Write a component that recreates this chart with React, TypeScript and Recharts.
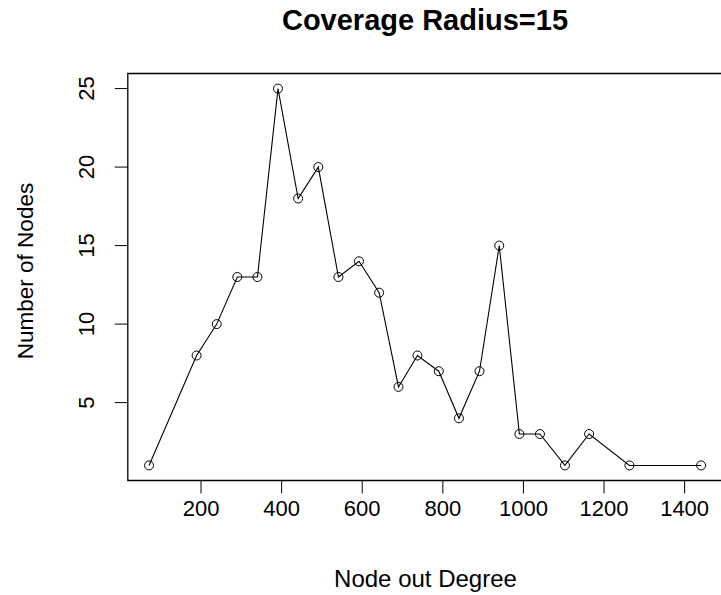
import React from 'react';
import { LineChart, Line, XAxis, YAxis, ReferenceArea } from 'recharts';

// values
const degrees = [71, 189, 239, 290, 340, 391, 441, 491, 541, 592, 642, 690, 737, 790, 840, 891, 940, 990, 1041, 1103, 1163, 1263, 1441];
const nodeCounts = [1, 8, 10, 13, 13, 25, 18, 20, 13, 14, 12, 6, 8, 7, 4, 7, 15, 3, 3, 1, 3, 1, 1];
const xTicks = [200, 400, 600, 800, 1000, 1200, 1400];
const yTicks = [5, 10, 15, 20, 25];

const X_DOMAIN: [number, number] = [18.3, 1495.7];
const Y_DOMAIN: [number, number] = [0.04, 25.96];

const FONT = '"Liberation Sans", Arial, sans-serif';

const data = degrees.map((d, i) => ({ degree: d, nodes: nodeCounts[i] }));

const XTick = (props: any) => {
  const { x, y, payload } = props;
  return (
    <text x={x} y={y + 22} textAnchor="middle" fontFamily={FONT} fontSize={22} fill="#000">
      {payload.value}
    </text>
  );
};

const YTick = (props: any) => {
  const { x, y, payload } = props;
  const bx = x - 21;
  return (
    <text
      x={bx}
      y={y}
      textAnchor="middle"
      fontFamily={FONT}
      fontSize={22}
      fill="#000"
      transform={`rotate(-90, ${bx}, ${y})`}
    >
      {payload.value}
    </text>
  );
};

export default function App() {
  return (
    <div style={{ position: 'fixed', left: 0, top: 0, width: 721, height: 595, overflow: 'hidden', background: '#fff' }}>
      <LineChart
        width={724}
        height={595}
        data={data}
        margin={{ top: 73.5, right: 0.8, left: 0, bottom: 0 }}
      >
        <XAxis
          type="number"
          dataKey="degree"
          domain={X_DOMAIN}
          ticks={xTicks}
          allowDataOverflow
          height={114.5}
          axisLine={false}
          tickSize={13}
          tickMargin={0}
          tickLine={{ stroke: '#000', strokeWidth: 1 }}
          tick={<XTick />}
          interval={0}
        />
        <YAxis
          type="number"
          domain={Y_DOMAIN}
          ticks={yTicks}
          allowDataOverflow
          width={127.8}
          axisLine={false}
          tickSize={13}
          tickMargin={0}
          tickLine={{ stroke: '#000', strokeWidth: 1 }}
          tick={<YTick />}
          interval={0}
        />
        <ReferenceArea
          x1={X_DOMAIN[0]}
          x2={X_DOMAIN[1]}
          y1={Y_DOMAIN[0]}
          y2={Y_DOMAIN[1]}
          fill="none"
          stroke="#000"
          strokeWidth={1.3}
          ifOverflow="visible"
        />
        <Line
          type="linear"
          dataKey="nodes"
          stroke="#000"
          strokeWidth={1.1}
          dot={{ r: 4.5, fill: 'none', stroke: '#000', strokeWidth: 1 }}
          isAnimationActive={false}
        />
      </LineChart>
      <svg
        width={721}
        height={595}
        style={{ position: 'absolute', left: 0, top: 0, pointerEvents: 'none' }}
      >
        <text x={425} y={29.5} textAnchor="middle" fontFamily={FONT} fontSize={29} fontWeight="bold" fill="#000">
          Coverage Radius=15
        </text>
        <text x={425.5} y={587} textAnchor="middle" fontFamily={FONT} fontSize={24} fill="#000">
          Node out Degree
        </text>
        <text
          x={33}
          y={271}
          textAnchor="middle"
          fontFamily={FONT}
          fontSize={22.5}
          fill="#000"
          transform="rotate(-90, 33, 271)"
        >
          Number of Nodes
        </text>
      </svg>
    </div>
  );
}
